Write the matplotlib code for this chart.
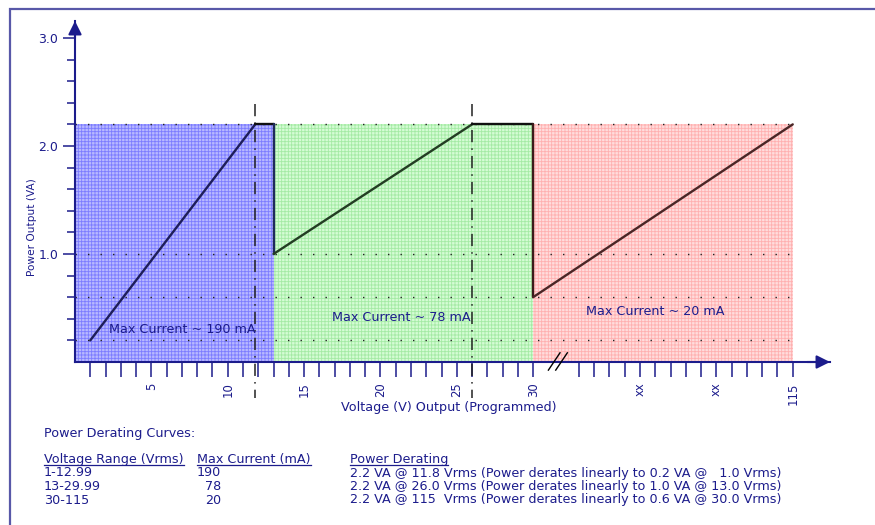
import numpy as np
import matplotlib
matplotlib.use('Agg')
import matplotlib.pyplot as plt
from matplotlib.lines import Line2D

plt.rcParams['font.family'] = ['DejaVu Sans']
plt.rcParams['hatch.linewidth'] = 0.6

# ---- data ----
region_edges = [0, 13, 30, 115]          # volts
region_top = 2.2                          # VA
region_labels = ['Max Current ~ 190 mA', 'Max Current ~ 78 mA', 'Max Current ~ 20 mA']
label_v = [2.2, 16.8, 47.3]
label_p = [0.305, 0.41, 0.47]

curve_v = [1, 11.8, 13, 13, 26, 30, 30, 115]
curve_p = [0.2, 2.2, 2.2, 1.0, 2.2, 2.2, 0.6, 2.2]

peak_v = [11.8, 26]
ref_levels = [2.2, 1.0, 0.6, 0.2]

xtick_v = [5, 10, 15, 20, 25, 30, 65, 90, 115]
xtick_lbl = ['5', '10', '15', '20', '25', '30', 'xx', 'xx', '115']
xminor_v = list(range(1, 31)) + list(range(45, 116, 5))
ytick_v = [1.0, 2.0, 3.0]
ytick_lbl = ['1.0', '2.0', '3.0']
yminor_v = [0.2, 0.4, 0.6, 0.8, 1.2, 1.4, 1.6, 1.8, 2.2, 2.4, 2.6, 2.8]

table_title = 'Power Derating Curves:'
table_headers = ['Voltage Range (Vrms)', 'Max Current (mA)', 'Power Derating']
ranges = ['1-12.99', '13-29.99', '30-115']
currents = ['190', '78', '20']
derating = ['2.2 VA @ 11.8 Vrms (Power derates linearly to 0.2 VA @   1.0 Vrms)',
            '2.2 VA @ 26.0 Vrms (Power derates linearly to 1.0 VA @ 13.0 Vrms)',
            '2.2 VA @ 115  Vrms (Power derates linearly to 0.6 VA @ 30.0 Vrms)']

navy = '#1c1c8c'
fills = ['#b8b8ff', '#d4fcd4', '#ffdcdc']
hatches = ['#7c7cff', '#a4eaa4', '#ffb0b0']
seg_colors = ['#1e1e5a', '#111111', '#1e2a5a', '#233d23', '#111111', '#3a1a1a', '#4a2626']


# x axis is broken at 30 V: 30..115 V squeezed 5x
def fwd(v):
    v = np.asarray(v, dtype=float)
    return np.where(v <= 30, v, 30 + (v - 30) / 5)


def inv(u):
    u = np.asarray(u, dtype=float)
    return np.where(u <= 30, u, 30 + (u - 30) * 5)


W, H = 875, 525
def fx(x): return x / W
def fy(y): return 1 - y / H


fig = plt.figure(figsize=(8.75, 5.25), dpi=100)
ax = fig.add_axes([fx(75), fy(362), 755 / W, 341 / H])
ax.set_xscale('function', functions=(fwd, inv))
ax.set_xlim(0, float(inv(49.44)))
ax.set_ylim(0, 3.157)

# shaded regions
for i in range(3):
    ax.fill_between([region_edges[i], region_edges[i + 1]], 0, region_top,
                    facecolor=fills[i], edgecolor=hatches[i], hatch='+++++',
                    linewidth=0, zorder=0)

ax.hlines(ref_levels, 0, 115, colors='#222222', linestyles=(0, (1, 8)), lw=1, zorder=1)
# dash-dot markers at the peak voltages, drawn top-down so they start with a dash
for v in peak_v:
    ax.plot([v, v], [2.39, -0.33], color='#222222', ls=(0, (8, 4, 1, 4)), lw=1.1,
            clip_on=False, zorder=3)

for i in range(len(curve_v) - 1):
    ax.plot(curve_v[i:i + 2], curve_p[i:i + 2], color=seg_colors[i], lw=1.7,
            solid_capstyle='round', zorder=4)

fs = 9.2
for v, p, t in zip(label_v, label_p, region_labels):
    ax.text(v, p, t, color=navy, fontsize=fs, va='center', zorder=5)

# axes look
for s in ['top', 'right']:
    ax.spines[s].set_visible(False)
for s in ['left', 'bottom']:
    ax.spines[s].set_color(navy)
    ax.spines[s].set_linewidth(1.5)
    ax.spines[s].set_zorder(6)
ax.patch.set_alpha(0)

ax.set_xticks(xtick_v, xtick_lbl, rotation=90)
ax.set_xticks(xminor_v, minor=True)
ax.tick_params(axis='x', which='both', length=11, width=1.1, colors=navy,
               labelsize=8.4, pad=3.5)
ax.set_yticks(ytick_v, ytick_lbl)
ax.set_yticks(yminor_v, minor=True)
ax.tick_params(axis='y', which='major', length=9, width=1.1, colors=navy,
               labelsize=9, pad=3)
ax.tick_params(axis='y', which='minor', length=6, width=1.1, colors=navy)

arrow = dict(arrowstyle='-|>,head_length=0.8,head_width=0.4', color=navy, lw=1.5,
             shrinkA=0, shrinkB=0)
ax.annotate('', xy=(1, 0), xytext=(0.97, 0), xycoords='axes fraction',
            arrowprops=arrow, annotation_clip=False)
ax.annotate('', xy=(0, 1), xytext=(0, 0.95), xycoords='axes fraction',
            arrowprops=arrow, annotation_clip=False)

# axis break marks
ax.plot([35.0, 38.8], [-0.075, 0.085], color='k', lw=1, clip_on=False, zorder=7)
ax.plot([37.4, 41.2], [-0.075, 0.085], color='k', lw=1, clip_on=False, zorder=7)

fig.text(fx(32), fy(227), 'Power Output (VA)', rotation=90, ha='center', va='center',
         fontsize=7.6, color=navy)
fig.text(fx(449), fy(408), 'Voltage (V) Output (Programmed)', ha='center', va='center',
         fontsize=fs, color=navy)

# table under the chart
fig.text(fx(44), fy(437.5), table_title, fontsize=fs, color=navy, va='baseline')
head_x = [44, 197, 350]
heads = [fig.text(fx(x), fy(463.5), t, fontsize=fs, color=navy, va='baseline')
         for x, t in zip(head_x, table_headers)]
row_y = [476.5, 490, 503.5]
for y, r, c, d in zip(row_y, ranges, currents, derating):
    fig.text(fx(44), fy(y), r, fontsize=fs, color=navy, va='baseline')
    fig.text(fx(221), fy(y), c, fontsize=fs, color=navy, va='baseline', ha='right')
    fig.text(fx(350), fy(y), d, fontsize=fs, color=navy, va='baseline')

fig.canvas.draw()
renderer = fig.canvas.get_renderer()
for t in heads:
    bb = t.get_window_extent(renderer)
    fig.add_artist(Line2D([bb.x0 / W, bb.x1 / W], [fy(465), fy(465)],
                          transform=fig.transFigure, color=navy, lw=0.9))

# outer frame (only left and top edges fall inside the image)
fig.add_artist(plt.Rectangle((fx(10), -0.05), 1.2, fy(9) + 0.05, transform=fig.transFigure,
                             fill=False, edgecolor='#5858a8', lw=1.6))

fig.savefig('out.png', dpi=100)
